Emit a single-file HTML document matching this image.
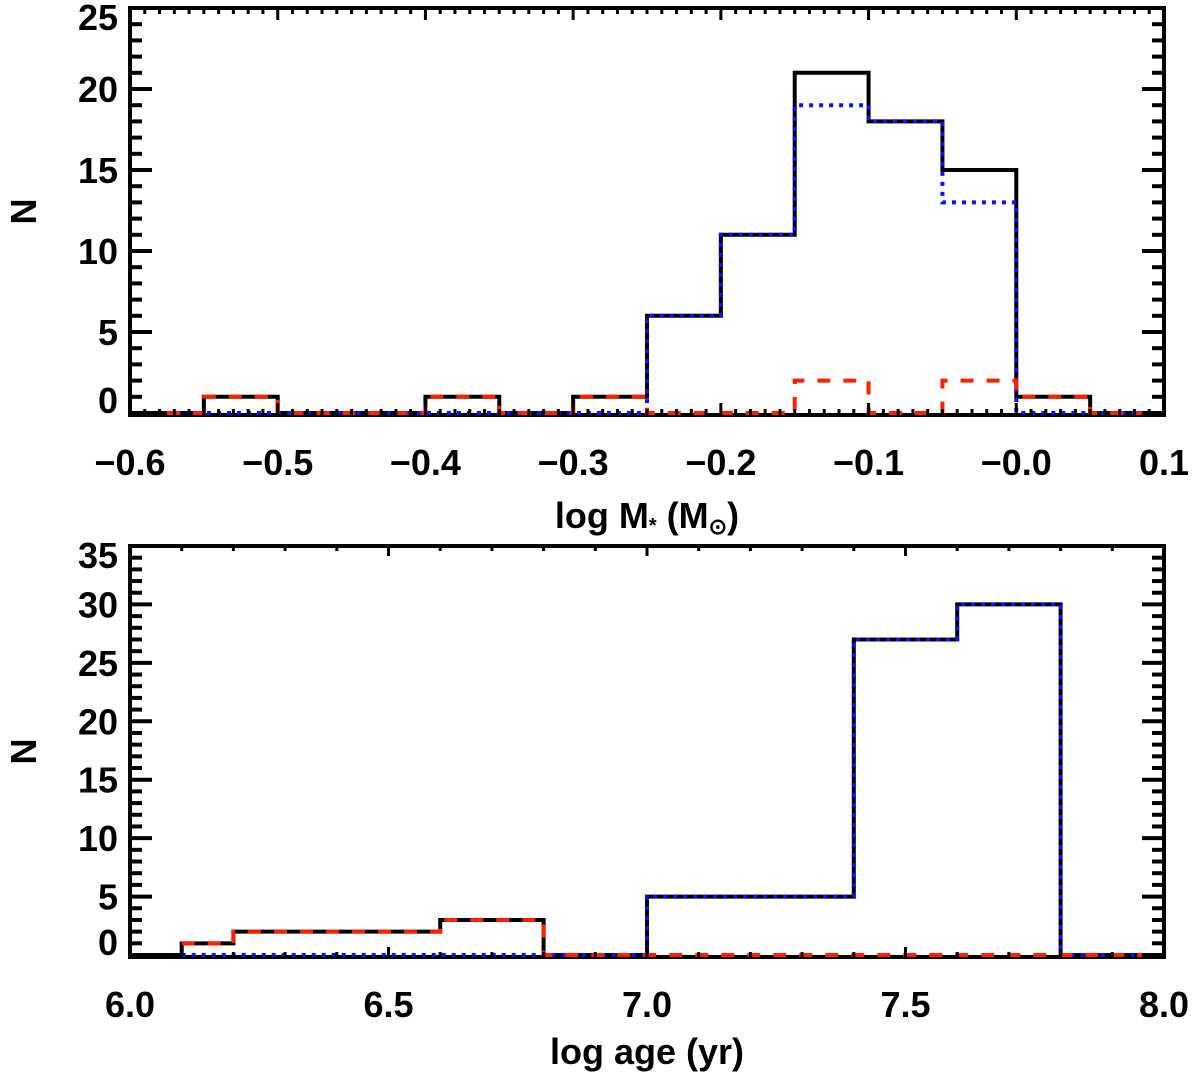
<!DOCTYPE html>
<html><head><meta charset="utf-8"><style>
html,body{margin:0;padding:0;background:#fff;}
svg text{font-family:"Liberation Sans",sans-serif;font-size:36px;font-weight:bold;fill:#000;}
</style></head><body>
<svg id="chart" width="1200" height="1086" xmlns="http://www.w3.org/2000/svg"></svg>
<script>
// Top panel data (log mass bins, width 0.05, starting at -0.6)
const massEdges = [-0.6,-0.55,-0.5,-0.45,-0.4,-0.35,-0.3,-0.25,-0.2,-0.15,-0.1,-0.05,0.0,0.05,0.1];
const massTotal = [0,1,0,0,1,0,1,6,11,21,18,15,1,0];
const massBlue  = [0,0,0,0,0,0,0,6,11,19,18,13,0,0];
const massRed   = [0,1,0,0,1,0,1,0,0,2,0,2,1,0];
const massTicks = ["−0.6","−0.5","−0.4","−0.3","−0.2","−0.1","−0.0","0.1"];
const massTickVals = [-0.6,-0.5,-0.4,-0.3,-0.2,-0.1,0.0,0.1];
const massYTicks = [0,5,10,15,20,25];
// Bottom panel data (log age bins)
const ageEdges = [6.0,6.1,6.2,6.6,6.8,7.0,7.4,7.6,7.8,8.0];
const ageTotal = [0,1,2,3,0,5,27,30,0];
const ageBlue  = [0,0,0,0,0,5,27,30,0];
const ageRed   = [0,1,2,3,0,0,0,0,0];
const ageTicks = ["6.0","6.5","7.0","7.5","8.0"];
const ageTickVals = [6.0,6.5,7.0,7.5,8.0];
const ageYTicks = [0,5,10,15,20,25,30,35];

const svg = document.getElementById('chart');
const NS = 'http://www.w3.org/2000/svg';
function mk(tag, attrs){const e=document.createElementNS(NS,tag);for(const k in attrs)e.setAttribute(k,attrs[k]);svg.appendChild(e);return e;}

function panel(p){
  const L=130,R=1164,T=p.top,B=p.bottom;
  const sx=v=>L+(v-p.x0)/(p.x1-p.x0)*(R-L);
  const sy=v=>B-2-(v-p.y0)/(p.y1-p.y0)*(B-2-T);
  // frame
  const f=mk('rect',{x:L,y:T,width:R-L,height:B-T,fill:'none',stroke:'#000','stroke-width':4});
  
  
  // series
  function step(edges,vals,color,dash,name,start,xs){
    let d='';
    for(let i=start;i<vals.length;i++){
      const x0=(i===start&&xs!==undefined)?sx(xs):sx(edges[i]),x1=sx(edges[i+1]),y=sy(vals[i]);
      d+=(i===start?'M':'L')+x0+','+y+' L'+x1+','+y+' ';
    }
    const e=mk('path',{d:d,fill:'none',stroke:color,'stroke-width':4,'stroke-dasharray':dash});
    
    
  }
  step(p.edges,p.total,'#000','',p.prefix+'-total-histogram',0);
  step(p.edges,p.blue,'#1010ff','4,6',p.prefix+'-blue-histogram',p.startC,p.cStart);
  step(p.edges,p.red,'#ff2000','13,13',p.prefix+'-red-histogram',p.startC,p.cStart);
  // x ticks
  for(let v=p.x0, i=0; v<=p.x1+1e-9; i++, v=p.x0+i*p.xminor){
    const major=Math.abs(Math.round((v-p.x0)/p.xmajor)*p.xmajor-(v-p.x0))<1e-6;
    const len=major?p.xmajLen:p.xminLen,x=sx(v);
    mk('line',{x1:x,y1:B,x2:x,y2:B-len,stroke:'#000','stroke-width':3});
    mk('line',{x1:x,y1:T,x2:x,y2:T+len,stroke:'#000','stroke-width':3});
  }
  for(let v=p.y0; v<=p.y1; v+=1){
    const major=v%5===0,len=major?22:12,y=sy(v);
    mk('line',{x1:L,y1:y,x2:L+len,y2:y,stroke:'#000','stroke-width':4});
    mk('line',{x1:R,y1:y,x2:R-len,y2:y,stroke:'#000','stroke-width':4});
  }
  p.tickVals.forEach((v,i)=>{
    const t=mk('text',{x:sx(v),y:B+60,'text-anchor':'middle'});t.textContent=p.ticks[i];
    
    
  });
  p.yTicks.forEach(v=>{
    const t=mk('text',{x:118,y:Math.max(sy(v)+(v===0?0:13),T+22),'text-anchor':'end'});t.textContent=v;
    
    
  });
  const yl=mk('text',{x:0,y:0,'text-anchor':'middle',transform:'translate(36,'+((T+B)/2)+') rotate(-90)'});
  yl.textContent='N';
  
  
}
panel({prefix:'mass',top:8,bottom:415,x0:-0.6,x1:0.1,y0:0,y1:25,xmajor:0.1,xminor:0.01,xmajLen:12,xminLen:6,
  edges:massEdges,total:massTotal,blue:massBlue,red:massRed,startC:0,cStart:-0.575,ticks:massTicks,tickVals:massTickVals,yTicks:massYTicks});
panel({prefix:'age',top:546,bottom:957,x0:6.0,x1:8.0,y0:0,y1:35,xmajor:0.5,xminor:0.1,xmajLen:10,xminLen:5,
  edges:ageEdges,total:ageTotal,blue:ageBlue,red:ageRed,startC:1,ticks:ageTicks,tickVals:ageTickVals,yTicks:ageYTicks});
const x1=mk('text',{x:647,y:528,'text-anchor':'middle'});
x1.innerHTML='log M<tspan font-size="20" dy="4">*</tspan><tspan dy="-4"> (M</tspan><tspan font-size="22" dy="6">⊙</tspan><tspan dy="-6">)</tspan>';


const x2=mk('text',{x:647,y:1064,'text-anchor':'middle'});
x2.textContent='log age (yr)';


</script>
</body></html>
